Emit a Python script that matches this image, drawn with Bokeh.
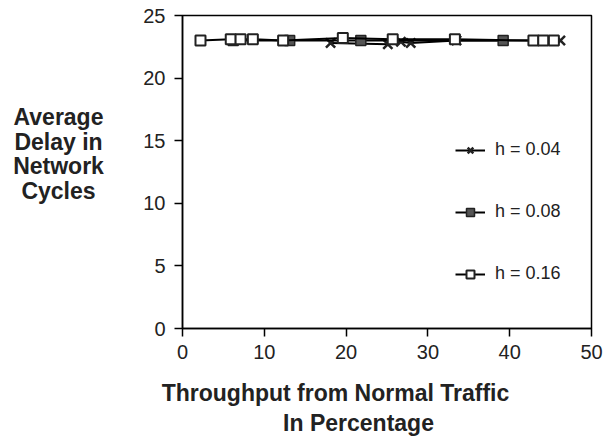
from bokeh.plotting import figure
from bokeh.models import Range1d, Legend, LegendItem, FixedTicker
from bokeh.layouts import row, column
from bokeh.core.properties import value
from bokeh.embed import file_html
from bokeh.resources import INLINE

# Data
x_h004 = [18.1, 25.1, 26.7, 27.9, 33.5, 46.2]
y_h004 = [22.8, 22.7, 22.9, 22.8, 23.0, 23.0]
x_h008 = [6.2, 13.1, 21.8, 39.2]
y_h008 = [23.0, 23.0, 23.0, 23.0]
x_h016 = [2.2, 5.9, 7.1, 8.6, 12.3, 19.6, 25.7, 33.3, 42.9, 44.1, 45.4]
y_h016 = [23.0, 23.1, 23.1, 23.1, 23.0, 23.2, 23.1, 23.1, 23.0, 23.0, 23.0]
x_ticks = [0, 10, 20, 30, 40, 50]
y_ticks = [0, 5, 10, 15, 20, 25]
series_labels = ["h = 0.04", "h = 0.08", "h = 0.16"]
y_title_lines = ["Average", "Delay in", "Network", "Cycles"]
x_title_lines = ["Throughput from Normal Traffic", "In Percentage"]

FONT = "Liberation Sans"
TXT = "#222222"

LW = 130          # width of left title panel
PW = 605 - LW     # main plot width
PH = 370          # main plot height
BH = 74           # bottom title panel height
FTOP, FBOT = 15, 328

# ---- main plot ----
p = figure(width=PW, height=PH, output_backend="svg", toolbar_location=None,
           x_range=Range1d(0, 50), y_range=Range1d(0, 25),
           min_border_left=182 - LW, min_border_right=605 - 591,
           min_border_top=FTOP, min_border_bottom=PH - FBOT)
p.background_fill_color = "white"
p.border_fill_color = "white"
p.outline_line_color = "black"
p.outline_line_width = 1.5
p.grid.visible = False

for ax in (p.xaxis[0], p.yaxis[0]):
    ax.major_label_text_font = FONT
    ax.major_label_text_font_size = "20px"
    ax.major_label_text_color = TXT
    ax.axis_line_width = 1.5
    ax.major_tick_line_width = 1.5
    ax.major_tick_out = 8
    ax.major_tick_in = 0
    ax.minor_tick_line_color = None
p.xaxis.ticker = FixedTicker(ticks=x_ticks)
p.yaxis.ticker = FixedTicker(ticks=y_ticks)
p.xaxis.major_label_standoff = 8
p.yaxis.major_label_standoff = 9

r1l = p.line(x_h004, y_h004, line_color="black", line_width=2)
r1m = p.scatter(x_h004, y_h004, marker="x", size=13, line_color="#222222", line_width=2.5)
r2l = p.line(x_h008, y_h008, line_color="black", line_width=2)
r2m = p.scatter(x_h008, y_h008, marker="square", size=10, fill_color="#555555",
                line_color="#222222", line_width=1.5)
r3l = p.line(x_h016, y_h016, line_color="black", line_width=2)
r3m = p.scatter(x_h016, y_h016, marker="square", size=10, fill_color="white",
                line_color="#222222", line_width=2)

legend = Legend(items=[
    LegendItem(label=series_labels[0], renderers=[r1l, r1m]),
    LegendItem(label=series_labels[1], renderers=[r2l, r2m]),
    LegendItem(label=series_labels[2], renderers=[r3l, r3m]),
], location=(273, 44))
legend.background_fill_alpha = 0
legend.border_line_color = None
legend.padding = 0
legend.margin = 0
legend.glyph_width = 30
legend.glyph_height = 20
legend.label_height = 20
legend.spacing = 41
legend.label_standoff = 10
legend.label_text_font = FONT
legend.label_text_font_size = "18px"
legend.label_text_color = TXT
p.add_layout(legend)

# ---- left panel: horizontal multi-line y-axis title ----
left = figure(width=LW, height=PH, output_backend="svg", toolbar_location=None,
              x_range=Range1d(0, LW), y_range=Range1d(FBOT, FTOP),
              min_border_left=0, min_border_right=0,
              min_border_top=FTOP, min_border_bottom=PH - FBOT,
              x_axis_type=None, y_axis_type=None)
left.outline_line_color = None
left.grid.visible = False
left.text(x=[58] * len(y_title_lines), y=[116, 141, 165, 190], text=y_title_lines,
          text_align="center", text_baseline="middle", text_font=value(FONT),
          text_font_style="bold", text_font_size="23px", text_color=TXT)

# ---- bottom panel: two-line x-axis title ----
bottom = figure(width=605, height=BH, output_backend="svg", toolbar_location=None,
                x_range=Range1d(0, 605), y_range=Range1d(BH, 0),
                min_border=0, x_axis_type=None, y_axis_type=None)
bottom.outline_line_color = None
bottom.grid.visible = False
bottom.text(x=[335, 358], y=[22, 52], text=x_title_lines,
            text_align="center", text_baseline="middle", text_font=value(FONT),
            text_font_style="bold", text_font_size="23px", text_color=TXT)

layout = column(row(left, p, spacing=0), bottom, spacing=0)
open("out.html", "w").write(file_html(layout, INLINE))
